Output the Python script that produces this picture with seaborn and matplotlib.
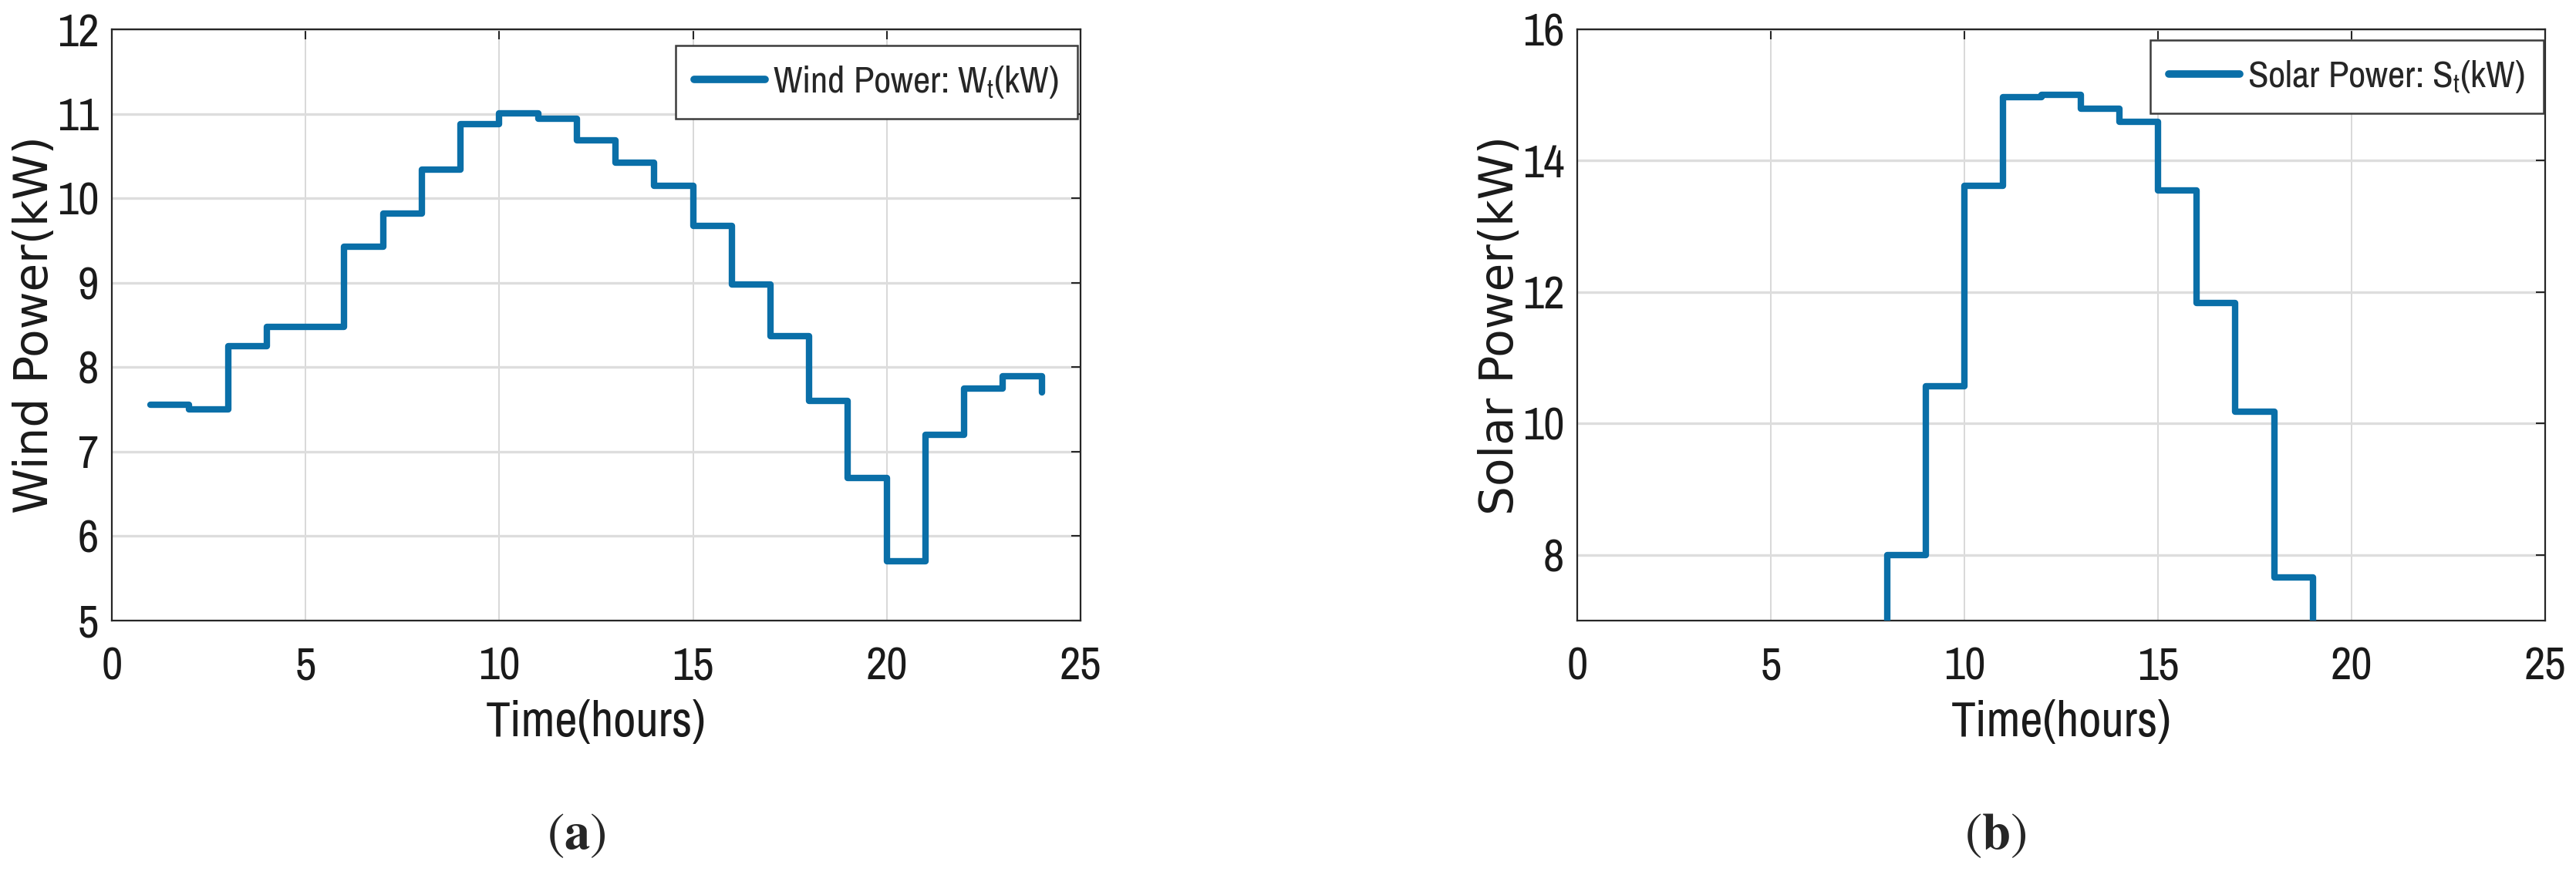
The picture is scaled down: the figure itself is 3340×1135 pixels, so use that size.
import matplotlib
matplotlib.use("Agg")
import matplotlib.pyplot as plt
import seaborn as sns
import pandas as pd

# hourly data (stairs plot, 1..24 h)
hours = [1, 2, 3, 4, 5, 6, 7, 8, 9, 10, 11, 12,
         13, 14, 15, 16, 17, 18, 19, 20, 21, 22, 23, 24]
wind_kw = [7.56, 7.50, 8.25, 8.48, 8.48, 9.43, 9.82, 10.34, 10.88, 11.01, 10.94, 10.69,
           10.42, 10.15, 9.67, 8.98, 8.37, 7.60, 6.69, 5.70, 7.20, 7.75, 7.89, 7.70]
solar_kw = [0, 0, 0, 0, 0, 0, 0, 8.0, 10.57, 13.62, 14.97, 15.0,
            14.79, 14.59, 13.55, 11.83, 10.18, 7.66, 0, 0, 0, 0, 0, 0]

x_ticks = [0, 5, 10, 15, 20, 25]
wind_yticks = [5, 6, 7, 8, 9, 10, 11, 12]
solar_yticks = [8, 10, 12, 14, 16]

df = pd.DataFrame({"hour": hours, "wind": wind_kw, "solar": solar_kw})

sns.set_style("white")
narrow = ["Archivo Narrow", "Roboto Condensed", "Liberation Sans", "DejaVu Sans"]
plt.rcParams["font.family"] = narrow
plt.rcParams["mathtext.fontset"] = "custom"
plt.rcParams["mathtext.rm"] = "Archivo Narrow"
plt.rcParams["mathtext.default"] = "rm"

LINE = "#0a6fa8"
DARK = "#262626"
TXT = "#1a1a1a"

fig = plt.figure(figsize=(33.41, 11.35), dpi=100)
ax1 = fig.add_axes([0.0434, 0.2907, 0.3759, 0.6758])
ax2 = fig.add_axes([0.6121, 0.2907, 0.3756, 0.6758])

panels = [
    (ax1, "wind", "Wind Power(kW)", "Wind Power: W$_t$(kW)", (5, 12), wind_yticks, (0.9968, 0.9726)),
    (ax2, "solar", "Solar Power(kW)", "Solar Power: S$_t$(kW)", (7, 16), solar_yticks, (0.9984, 0.9817)),
]

for ax, col, ylab, leg, ylim, yt, anchor in panels:
    sns.lineplot(data=df, x="hour", y=col, ax=ax, drawstyle="steps-post",
                 color=LINE, linewidth=6, label=leg, zorder=3)
    ax.set_xlim(0, 25)
    ax.set_ylim(*ylim)
    ax.set_xticks(x_ticks)
    ax.set_yticks(yt)
    ax.grid(True, axis="x", color="#d2d2d2", linewidth=1.2, zorder=0)
    ax.grid(True, axis="y", color="#dddddd", linewidth=2.4, zorder=0)
    for s in ax.spines.values():
        s.set_visible(True)
        s.set_color(DARK)
        s.set_linewidth(1.6)
    ax.tick_params(direction="in", length=9, width=1.5, color=DARK,
                   top=True, right=True, labelsize=43, labelcolor=TXT)
    ax.tick_params(axis="x", pad=24)
    ax.tick_params(axis="y", pad=12)
    ax.set_xlabel("Time(hours)", fontsize=46, color=TXT, labelpad=12)
    ax.set_ylabel(ylab, fontsize=43, family=["DejaVu Sans"], color=TXT)
    ax.yaxis.set_label_coords(-0.056, 0.5)
    lg = ax.legend(loc="upper right", bbox_to_anchor=anchor, borderaxespad=0,
                   fontsize=35, handlelength=1.9, handletextpad=0.2, borderpad=0.5,
                   fancybox=False, framealpha=1, edgecolor="#3c3c3c")
    lg.get_frame().set_linewidth(1.8)
    for line in lg.get_lines():
        line.set_linewidth(7)

fig.text(0.2236, 0.045, r"$(\mathbf{a})$", fontsize=48, ha="center", va="center",
         math_fontfamily="stix")
fig.text(0.7745, 0.045, r"$(\mathbf{b})$", fontsize=48, ha="center", va="center",
         math_fontfamily="stix")

plt.savefig("out.png", dpi=100)
